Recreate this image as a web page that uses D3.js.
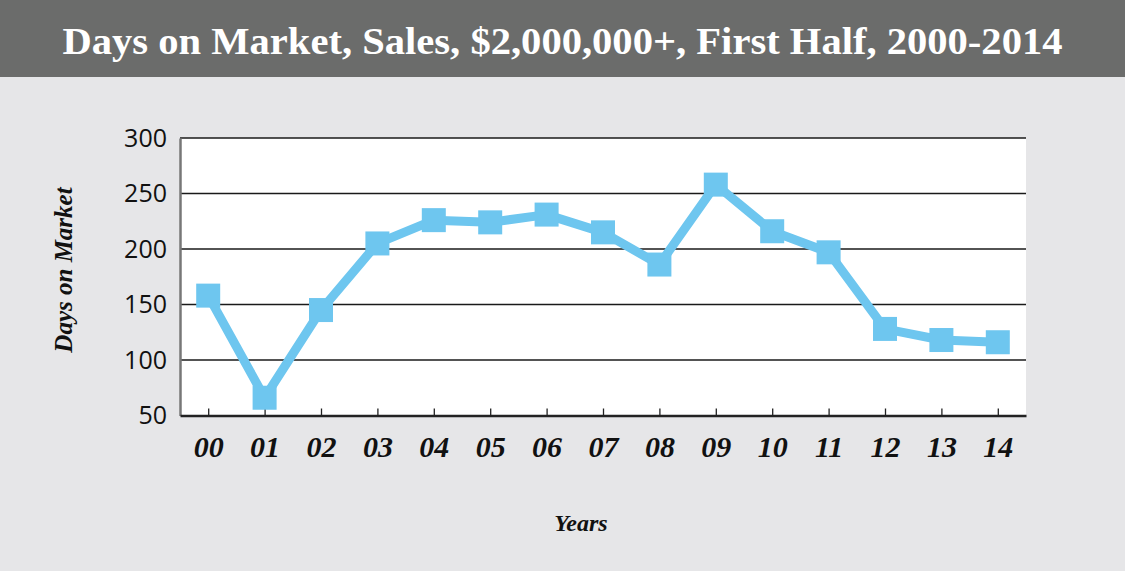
<!DOCTYPE html>
<html lang="en">
  <head>
    <meta charset="utf-8"/>
    <script src="https://d3js.org/d3.v7.min.js"></script>
    <style>
      body { margin: 0; background: #e6e6e8; }
      svg { display: block; }
    </style>
  </head>
  <body>
    <svg class="chart" width="1125" height="571"></svg>
  </body>
  <script>
    const title = "Days on Market, Sales, $2,000,000+, First Half, 2000-2014";
    const years = ["00", "01", "02", "03", "04", "05", "06", "07", "08", "09", "10", "11", "12", "13", "14"];
    const days = [158, 66, 145, 205, 226, 224, 231, 215, 186, 258, 216, 197, 128, 118, 116];
    const yTicks = [50, 100, 150, 200, 250, 300];

    const width = 1125, height = 571;
    const plot = { left: 180, right: 1026, top: 138, bottom: 415.5 };
    const serif = "'Liberation Serif', 'DejaVu Serif', serif";

    const svg = d3.select(".chart");

    svg.append("rect")
      .attr("width", width).attr("height", height)
      .attr("fill", "#e6e6e8");

    // title band
    svg.append("rect")
      .attr("width", width).attr("height", 77)
      .attr("fill", "#6b6c6b");
    svg.append("text")
      .attr("x", width / 2).attr("y", 54)
      .attr("text-anchor", "middle")
      .attr("fill", "white")
      .attr("textLength", 1000)
      .attr("lengthAdjust", "spacingAndGlyphs")
      .style("font", "bold 37px " + serif)
      .text(title);

    const x = d3.scalePoint()
      .domain(years)
      .range([plot.left, plot.right])
      .padding(0.5);

    const y = d3.scaleLinear()
      .domain([50, 300])
      .range([plot.bottom, plot.top]);

    // plot area
    svg.append("rect")
      .attr("x", plot.left).attr("y", plot.top)
      .attr("width", plot.right - plot.left)
      .attr("height", plot.bottom - plot.top)
      .attr("fill", "white");

    // gridlines
    svg.append("g")
      .selectAll("line")
      .data(yTicks.filter(d => d > 50))
      .join("line")
        .attr("x1", plot.left).attr("x2", plot.right)
        .attr("y1", d => y(d)).attr("y2", d => y(d))
        .attr("stroke", "#1a1a1a")
        .attr("stroke-width", 1.6);

    // y axis
    const yAxis = svg.append("g")
      .attr("transform", "translate(" + plot.left + ",0)")
      .call(d3.axisLeft(y).tickValues(yTicks).tickSize(0).tickPadding(13));
    yAxis.select(".domain").attr("stroke", "#777").attr("stroke-width", 2.5);
    yAxis.selectAll("text")
      .attr("fill", "#111")
      .style("font", "25px 'Open Sans', 'Noto Sans', sans-serif");

    // x axis
    const xAxis = svg.append("g")
      .attr("transform", "translate(0," + plot.bottom + ")")
      .call(d3.axisBottom(x).tickSize(-7).tickSizeOuter(0).tickPadding(20));
    xAxis.select(".domain").attr("stroke", "#222").attr("stroke-width", 2.5);
    xAxis.selectAll(".tick line").attr("stroke", "#222").attr("stroke-width", 1.3);
    xAxis.selectAll("text")
      .attr("fill", "#111")
      .style("font", "italic bold 30px " + serif);

    // line
    svg.append("path")
      .datum(days)
      .attr("fill", "none")
      .attr("stroke", "#6ec6ef")
      .attr("stroke-width", 9)
      .attr("stroke-linejoin", "round")
      .attr("d", d3.line()
        .x((d, i) => x(years[i]))
        .y(d => y(d)));

    // markers
    const m = 24;
    svg.append("g")
      .selectAll("rect")
      .data(days)
      .join("rect")
        .attr("x", (d, i) => x(years[i]) - m / 2)
        .attr("y", d => y(d) - m / 2)
        .attr("width", m).attr("height", m)
        .attr("fill", "#6ec6ef");

    // axis titles
    svg.append("text")
      .attr("x", 581).attr("y", 531)
      .attr("text-anchor", "middle")
      .attr("fill", "#111")
      .style("font", "italic bold 24px " + serif)
      .text("Years");

    svg.append("text")
      .attr("transform", "translate(72,270) rotate(-90)")
      .attr("text-anchor", "middle")
      .attr("fill", "#111")
      .style("font", "italic bold 25px " + serif)
      .text("Days on Market");
  </script>
</html>
